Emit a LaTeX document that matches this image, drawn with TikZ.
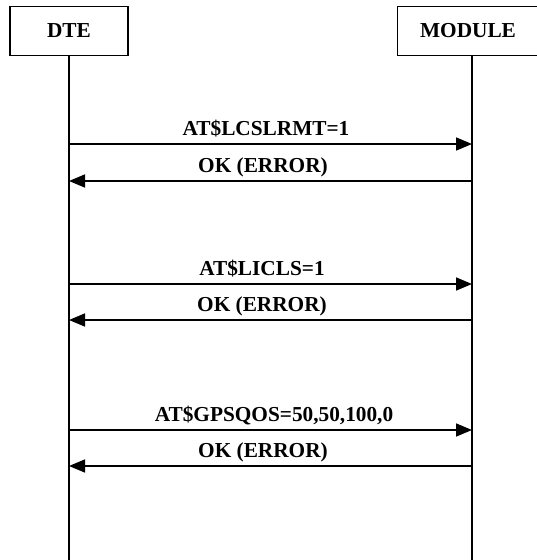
\documentclass[tikz,border=0pt]{standalone}
\usepackage{fontspec}
\setmainfont{Liberation Serif}
\usetikzlibrary{arrows.meta}
\tikzset{
  actor/.style={draw, line width=1.6pt, minimum height=49pt, inner sep=0pt,
    font=\fontsize{21.3}{25}\selectfont\bfseries},
  life/.style={line width=1.8pt},
  msg/.style={line width=1.6pt, -{Triangle[length=16pt,width=13pt]}},
  lbl/.style={anchor=base, inner sep=0pt, font=\fontsize{21.3}{25}\selectfont\bfseries}
}
\begin{document}
\begin{tikzpicture}[x=1pt,y=-1pt]
\path[use as bounding box, fill=white] (0,0) rectangle (537,560);
\node[actor, minimum width=118pt] (dte) at (69,31) {DTE};
\node[actor, minimum width=141pt] (mod) at (468,31) {MODULE};
\coordinate (dteEnd) at (69,560);
\coordinate (modTop) at (472,55.5);
\coordinate (modEnd) at (472,560);
\draw[life] (dte.south) -- (dteEnd);
\draw[life] (modTop) -- (modEnd);
% message coordinates
\coordinate (d1) at (69,144);  \coordinate (m1) at (472,144);
\coordinate (d2) at (69,181);  \coordinate (m2) at (472,181);
\coordinate (d3) at (69,284);  \coordinate (m3) at (472,284);
\coordinate (d4) at (69,320);  \coordinate (m4) at (472,320);
\coordinate (d5) at (69,430);  \coordinate (m5) at (472,430);
\coordinate (d6) at (69,466);  \coordinate (m6) at (472,466);
\draw[msg] (d1) -- (m1);
\draw[msg] (m2) -- (d2);
\draw[msg] (d3) -- (m3);
\draw[msg] (m4) -- (d4);
\draw[msg] (d5) -- (m5);
\draw[msg] (m6) -- (d6);
\node[lbl] (l1) at (266,135.5) {AT\$LCSLRMT=1};
\node[lbl] (l2) at (263,172.5) {OK (ERROR)};
\node[lbl] (l3) at (262,275.5) {AT\$LICLS=1};
\node[lbl] (l4) at (262,311.5) {OK (ERROR)};
\node[lbl] (l5) at (274,421.5) {AT\$GPSQOS=50,50,100,0};
\node[lbl] (l6) at (263,457.5) {OK (ERROR)};
\end{tikzpicture}
\end{document}
